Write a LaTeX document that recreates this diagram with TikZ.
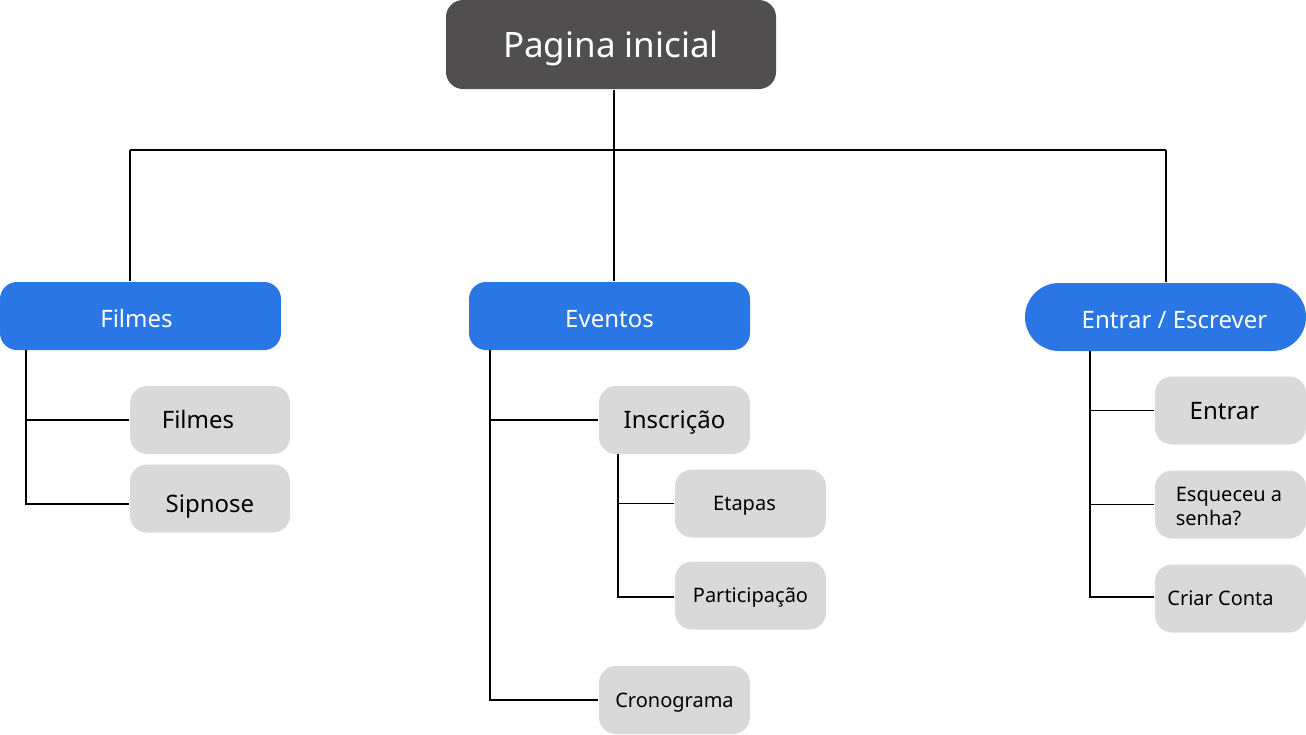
\documentclass[tikz,border=0pt]{standalone}
\usepackage{fontspec}
\setmainfont{Noto Sans}
\definecolor{rootgray}{HTML}{504E4F}
\definecolor{menublue}{HTML}{2976E4}
\definecolor{kidgray}{HTML}{D9D9D9}

\begin{document}
\begin{tikzpicture}
[x=1pt,y=-1pt,line width=1.2pt,
 big/.style={font=\fontsize{24}{29}\selectfont,text height=17.1pt,text depth=0pt},
 small/.style={font=\fontsize{20}{24}\selectfont,text height=14.3pt,text depth=0pt},
 root/.style={fill=rootgray,rounded corners=17pt,minimum width=330pt,minimum height=89pt,inner sep=0pt,text=white,font=\fontsize{35}{42}\selectfont,text height=25pt,text depth=0pt},
 menu/.style={fill=menublue,rounded corners=17pt,minimum width=281pt,minimum height=68pt,inner sep=0pt,text=white,big},
 kid/.style={fill=kidgray,rounded corners=17pt,minimum height=68pt,inner sep=0pt,big},
 every label/.style={inner sep=0pt},
]
\useasboundingbox (0,0) rectangle (1306,734);

%Top
\node (root) at (611,44.5)[root] {Pagina inicial};

%Menus
\node (film) at (140.5,316)[menu,label={[big,text=white,xshift=-4pt,yshift=-2.5pt]center:Filmes}] {};
\node (evt) at (609.5,316)[menu,label={[big,text=white,yshift=-2.5pt]center:Eventos}] {};
\node (login) at (1165.5,317)[menu,rounded corners=34pt,label={[big,text=white,xshift=9pt,yshift=-2.5pt]center:Entrar / Escrever}] {};

%Filmes items
\node (filmA) at (210,420)[kid,minimum width=160pt,label={[big,xshift=-12pt]center:Filmes}] {};
\node (sinop) at (210,498.5)[kid,minimum width=160pt,label={[big,yshift=-5pt]center:Sipnose}] {};

%Eventos items
\node (insc) at (674.5,420)[kid,minimum width=151pt] {Inscrição};
\node (etap) at (750.5,503.5)[kid,minimum width=151pt,label={[small,xshift=-6pt]center:Etapas}] {};
\node (part) at (750.5,595.5)[kid,small,minimum width=151pt] {Participação};
\node (crono) at (674.5,700)[kid,small,minimum width=151pt] {Cronograma};

%Entrar items
\node (entr) at (1230.5,410.5)[kid,minimum width=151pt,label={[big,xshift=-6pt]center:Entrar}] {};
\node (esq) at (1230.5,504.5)[kid,minimum width=151pt,label={[font=\fontsize{20}{24}\selectfont,align=left,xshift=-1.5pt,yshift=-2pt]center:Esqueceu a\\senha?}] {};
\node (conta) at (1230.5,598.5)[kid,minimum width=151pt,label={[small,xshift=-10pt]center:Criar Conta}] {};

%Bus
\coordinate (busL) at (130,150);
\coordinate (busM) at (614,150);
\coordinate (busR) at (1166,150);
\draw (root.south -| busM) -- (busM);
\draw (busL) -- (busR);
\draw (busL) -- (busL |- film.north);
\draw (busM) -- (busM |- evt.north);
\draw (busR) -- (busR |- login.north);

%Spines
\coordinate (sF) at (26,350);
\coordinate (sE) at (490,350);
\coordinate (sI) at (618,454);
\coordinate (sL) at (1090,351);
\draw (sF) |- (filmA.west);
\draw (sF) |- ([yshift=-5.5pt]sinop.west);
\draw (sE) |- (insc.west);
\draw (sE) |- (crono.west);
\draw (sI) |- (etap.west);
\draw (sI) |- ([yshift=-1.5pt]part.west);
\draw (sL) |- (entr.west);
\draw (sL) |- (esq.west);
\draw (sL) |- ([yshift=1.5pt]conta.west);

\end{tikzpicture}
\end{document}
